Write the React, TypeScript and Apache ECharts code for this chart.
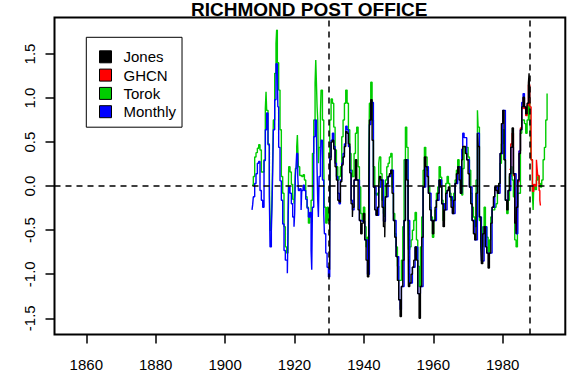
import React, { useEffect, useRef } from "react";
import * as echarts from "echarts";

const FONT = "'Liberation Sans', Arial, Helvetica, sans-serif";

const TITLE = "RICHMOND POST OFFICE";
const LEGEND_ORDER = ["Jones", "GHCN", "Torok", "Monthly"];
const X_TICKS = [1860, 1880, 1900, 1920, 1940, 1960, 1980];
const Y_TICKS = [-1.5, -1.0, -0.5, 0.0, 0.5, 1.0, 1.5];
const X_RANGE = [1850.84, 1998.04];
const Y_RANGE = [-1.684, 1.914];
const V_LINES = [1930, 1987.7];

// [year, anomaly]
const torok: [number, number][] = [
  [1907.76, 0.01], [1908.14, 0.11], [1908.53, 0.33], [1908.91, 0.38], [1909.3, 0.43], [1909.68, 0.47],
  [1910.06, 0.41], [1910.45, 0.16], [1910.83, 0.16], [1911.22, 0.3], [1911.6, 0.88], [1911.8, 1.07],
  [1911.98, 0.86], [1912.37, 0.48], [1912.75, 0.1], [1912.95, -0.5], [1913.33, -0.4], [1913.52, -0.1],
  [1913.71, 0.3], [1913.91, 0.75], [1914.29, 1.28], [1914.67, 1.62], [1914.85, 1.77], [1915.06, 1.4],
  [1915.44, 1.09], [1915.83, 0.64], [1916.21, 0.11], [1916.6, -0.08], [1916.98, -0.46], [1917.36, -0.69],
  [1917.75, -0.76], [1918.13, -0.31], [1918.33, 0.22], [1918.71, 0.16], [1919.09, 0.02], [1919.48, -0.15],
  [1919.86, -0.2], [1920.05, -0.08], [1920.25, 0.2], [1920.63, 0.44], [1920.83, 0.58], [1920.94, 0.44],
  [1921.13, 0.22], [1921.51, 0.12], [1922.09, 0.11], [1922.48, 0.13], [1922.86, 0.07], [1923.24, -0.12],
  [1923.63, -0.24], [1924.01, -0.42], [1924.4, -0.35], [1924.78, -0.16], [1925.17, 0.37], [1925.55, 0.75],
  [1925.93, 1.17], [1926.13, 1.43], [1926.32, 1.17], [1926.51, 0.9], [1926.7, 0.75], [1926.89, 0.26],
  [1927.09, 0.44], [1927.47, 0.83], [1927.66, 1.09], [1928.05, 0.75], [1928.43, 0.3], [1928.62, -0.24],
  [1929.01, -0.42], [1929.39, -0.24], [1929.78, -0.39], [1930.16, 0.75], [1930.54, 0.99], [1930.93, 0.94],
  [1931.31, 0.67], [1931.7, 0.41], [1932.08, 0.22], [1932.47, 0.07], [1932.85, 0.11], [1933.23, 0.22],
  [1933.62, 0.56], [1934.0, 0.75], [1934.39, 0.94], [1934.77, 1.09], [1935.16, 0.94], [1935.54, 0.64],
  [1935.93, 0.37], [1936.31, 0.18], [1936.69, 0.1], [1936.79, 0.11], [1937.17, 0.37], [1937.56, 0.6],
  [1937.94, 0.67], [1938.33, 0.22], [1938.71, -0.01], [1939.09, -0.31], [1939.48, -0.39], [1939.86, -0.24],
  [1940.25, -0.46], [1940.63, -0.69], [1941.02, -0.58], [1941.4, 0.18], [1941.59, 0.94], [1941.98, 1.18],
  [1942.36, 0.75], [1942.74, 0.22], [1943.13, -0.08], [1943.51, -0.1], [1943.9, -0.08], [1944.28, 0.26],
  [1944.47, 0.33], [1944.86, 0.14], [1945.24, -0.16], [1945.63, -0.31], [1946.01, -0.35], [1946.2, 0.07],
  [1946.59, 0.22], [1946.97, 0.26], [1947.35, 0.33], [1947.74, 0.37], [1948.12, -0.01], [1948.51, -0.31],
  [1948.89, -0.54], [1949.28, -0.69], [1949.66, -0.91], [1950.04, -1.07], [1950.43, -1.07], [1950.81, -0.84],
  [1951.2, -0.46], [1951.58, 0.3], [1951.97, 0.67], [1952.35, 0.44], [1952.73, -0.08], [1952.83, -0.72],
  [1953.21, -0.69], [1953.6, -0.61], [1953.98, -0.5], [1954.37, -0.39], [1954.75, -0.3], [1955.14, -0.61],
  [1955.52, -0.91], [1955.91, -1.14], [1956.29, -0.69], [1956.67, -0.35], [1957.06, 0.18], [1957.44, 0.44],
  [1957.83, 0.33], [1958.21, 0.18], [1958.59, -0.01], [1958.98, -0.24], [1959.36, -0.35], [1959.75, -0.58],
  [1960.13, -0.39], [1960.51, -0.27], [1960.9, -0.08], [1961.28, -0.01], [1961.67, 0.22], [1962.05, 0.1],
  [1962.43, -0.16], [1962.82, -0.39], [1963.2, -0.2], [1963.59, 0.03], [1963.97, 0.11], [1964.35, 0.03],
  [1964.74, -0.08], [1965.12, -0.16], [1965.51, -0.24], [1965.89, -0.08], [1966.28, 0.07], [1966.66, 0.18],
  [1967.04, 0.3], [1967.43, 0.22], [1967.81, -0.03], [1968.2, -0.1], [1968.49, 0.2], [1968.87, 0.44],
  [1969.26, 0.44], [1969.64, 0.44], [1970.03, 0.33], [1970.41, 0.18], [1970.79, -0.08], [1971.18, -0.24],
  [1971.56, -0.35], [1971.95, -0.46], [1972.33, 0.07], [1972.72, 0.86], [1972.91, 0.67], [1973.29, -0.39],
  [1973.68, -0.58], [1973.87, -0.69], [1974.25, -0.46], [1974.64, -0.24], [1975.02, -0.46], [1975.41, -0.58],
  [1975.79, -0.76], [1976.17, -0.61], [1976.56, -0.35], [1976.94, -0.27], [1977.33, -0.27], [1977.71, -0.24],
  [1978.09, -0.2], [1978.48, -0.08], [1978.86, 0.03], [1979.25, 0.26], [1979.63, 0.48], [1980.02, 0.64],
  [1980.4, 0.3], [1980.78, -0.16], [1981.17, -0.31], [1981.55, -0.16], [1981.94, 0.11], [1982.32, 0.22],
  [1982.71, 0.07], [1983.09, -0.12], [1983.47, -0.61], [1983.86, -0.69], [1984.24, -0.4], [1984.34, -0.08],
  [1985.11, 0.6], [1985.49, 0.75], [1986.26, 0.71], [1986.64, 0.6], [1987.03, 0.75], [1987.41, 0.95],
  [1987.8, 0.85], [1988.0, 0.58], [1988.18, 0.3], [1988.57, -0.08], [1988.76, -0.27], [1988.95, 0.0],
  [1989.33, -0.04], [1989.72, 0.07], [1990.1, 0.11], [1990.49, 0.03], [1990.87, -0.01], [1991.25, 0.07],
  [1991.64, 0.3], [1992.02, 0.44], [1992.41, 0.75], [1992.79, 1.05],
];

const ghcn: [number, number][] = [
  [1981.94, 0.19], [1982.32, 0.48], [1982.71, 0.6], [1983.09, 0.12], [1983.47, -0.4], [1983.86, -0.5],
  [1984.24, -0.12], [1984.34, 0.05], [1984.72, 0.4], [1985.11, 0.66], [1985.49, 0.88], [1985.88, 1.0],
  [1986.26, 0.88], [1986.64, 0.8], [1987.03, 0.92], [1987.41, 1.15], [1987.8, 0.9], [1988.18, 0.3],
  [1988.57, -0.06], [1988.95, 0.02], [1989.33, 0.0], [1989.72, 0.3], [1989.91, 0.2], [1990.1, 0.12],
  [1990.49, -0.05], [1990.7, -0.16], [1990.87, -0.22],
];

const monthly: [number, number][] = [
  [1907.76, -0.27], [1907.95, -0.21], [1908.14, -0.12], [1908.53, 0.03], [1908.91, 0.14], [1909.3, 0.26],
  [1909.68, 0.28], [1910.06, -0.05], [1910.45, -0.16], [1910.83, -0.24], [1911.22, 0.29], [1911.6, 0.64],
  [1911.98, 0.83], [1912.37, 0.47], [1912.75, -0.12], [1912.85, -0.39], [1912.95, -0.69], [1913.33, -0.5],
  [1913.52, -0.23], [1913.71, 0.14], [1913.91, 0.64], [1914.29, 0.98], [1914.67, 1.39], [1915.06, 1.34],
  [1915.2, 0.9], [1915.44, 0.44], [1915.83, 0.06], [1916.21, -0.16], [1916.6, -0.43], [1916.98, -0.73],
  [1917.36, -0.84], [1917.94, -0.99], [1918.13, -0.5], [1918.33, -0.01], [1918.71, -0.08], [1919.09, -0.2],
  [1919.48, -0.35], [1919.86, -0.46], [1920.05, -0.31], [1920.25, 0.11], [1920.44, 0.22], [1920.63, 0.37],
  [1920.94, 0.11], [1921.13, -0.05], [1921.51, -0.03], [1921.9, -0.27], [1922.09, -0.05], [1922.48, 0.01],
  [1922.86, -0.05], [1923.24, -0.15], [1923.63, -0.25], [1924.01, -0.35], [1924.4, -0.3], [1924.78, -0.73],
  [1924.97, -0.95], [1925.17, -0.24], [1925.55, 0.56], [1925.93, 0.75], [1926.32, 0.6], [1926.51, 0.18],
  [1926.7, -0.16], [1926.89, -0.35], [1927.09, 0.11], [1927.47, 0.3], [1927.66, 0.52], [1928.05, 0.07],
  [1928.43, -0.31], [1928.62, -0.54], [1929.01, -0.76], [1929.39, -0.92], [1929.78, -1.03], [1930.16, 0.33],
  [1930.54, 0.52], [1930.93, 0.6], [1931.31, 0.45], [1931.7, 0.26], [1932.08, 0.11], [1932.47, -0.08],
  [1932.85, -0.2], [1933.23, 0.07], [1933.62, 0.26], [1934.0, 0.37], [1934.39, 0.48], [1934.77, 0.68],
  [1935.16, 0.64], [1935.54, 0.45], [1935.93, 0.18], [1936.31, -0.16], [1936.69, -0.27], [1937.17, 0.07],
  [1937.94, 0.07], [1938.71, -0.39], [1939.48, -0.4], [1940.25, -0.61], [1941.02, -1.0], [1941.59, 0.7],
  [1941.98, 0.95], [1942.74, -0.01], [1943.51, -0.33], [1944.28, -0.01], [1944.86, 0.07], [1945.63, -0.4],
  [1946.2, -0.12], [1946.97, 0.11], [1947.74, 0.18], [1948.51, -0.39], [1949.28, -0.8], [1950.04, -1.29],
  [1950.43, -1.4], [1950.81, -1.14], [1951.58, -0.39], [1951.97, 0.3], [1952.73, -0.39], [1953.21, -1.1],
  [1953.98, -0.92], [1954.75, -0.69], [1955.52, -1.22], [1956.29, -1.14], [1957.06, -0.01], [1957.83, 0.22],
  [1958.59, -0.08], [1959.36, -0.39], [1960.13, -0.39], [1960.9, -0.16], [1961.67, 0.07], [1962.43, -0.2],
  [1963.2, -0.27], [1963.97, -0.05], [1964.74, -0.12], [1965.51, -0.31], [1966.28, 0.03], [1967.04, 0.22],
  [1967.81, -0.08], [1968.2, 0.42], [1968.49, 0.6], [1968.87, 0.55], [1969.64, 0.3], [1970.41, -0.01],
  [1971.18, -0.39], [1971.95, -0.61], [1972.72, 0.6], [1973.29, -0.35], [1973.87, -0.85], [1974.64, -0.46],
  [1975.41, -0.76], [1976.17, -0.76], [1976.94, -0.24], [1977.71, -0.01], [1978.48, -0.08], [1979.25, 0.37],
  [1980.02, 0.86], [1980.78, -0.16], [1981.55, -0.05], [1982.32, 0.44], [1983.09, 0.14], [1983.86, -0.54],
  [1984.34, 0.07], [1984.72, 0.4], [1985.11, 0.64], [1985.49, 0.95], [1985.88, 1.05], [1986.26, 0.9],
  [1986.64, 0.82],
];

const jones: [number, number][] = [
  [1930.1, -0.95], [1930.25, 0.3], [1930.54, 0.5], [1930.93, 0.52], [1931.31, 0.42], [1931.7, 0.22],
  [1932.08, 0.07], [1932.47, -0.16], [1932.85, -0.18], [1933.23, 0.05], [1933.62, 0.24], [1934.0, 0.33],
  [1934.39, 0.45], [1934.77, 0.62], [1935.16, 0.6], [1935.54, 0.48], [1935.93, 0.15], [1936.31, -0.2],
  [1936.69, -0.35], [1936.79, -0.24], [1937.17, 0.07], [1937.56, 0.3], [1937.94, 0.07], [1938.33, -0.27],
  [1938.71, -0.39], [1939.09, -0.54], [1939.48, -0.42], [1939.86, -0.31], [1940.25, -0.61], [1940.63, -0.84],
  [1941.02, -1.03], [1941.4, -0.08], [1941.59, 0.75], [1941.98, 0.98], [1942.36, 0.52], [1942.74, -0.01],
  [1943.13, -0.27], [1943.51, -0.33], [1943.9, -0.24], [1944.28, -0.01], [1944.47, 0.11], [1944.86, 0.07],
  [1945.24, -0.24], [1945.63, -0.46], [1946.01, -0.58], [1946.2, -0.12], [1946.59, 0.03], [1946.97, 0.11],
  [1947.35, 0.14], [1947.74, 0.18], [1948.12, -0.08], [1948.51, -0.39], [1948.89, -0.58], [1949.28, -0.8],
  [1949.66, -1.07], [1950.04, -1.29], [1950.43, -1.48], [1950.81, -1.14], [1951.2, -0.84], [1951.58, -0.39],
  [1951.97, 0.3], [1952.35, 0.07], [1952.73, -0.39], [1952.83, -1.14], [1953.21, -1.1], [1953.6, -1.0],
  [1953.98, -0.92], [1954.37, -0.84], [1954.75, -0.69], [1955.14, -0.84], [1955.52, -1.22], [1955.91, -1.5],
  [1956.29, -1.14], [1956.67, -0.58], [1957.06, -0.01], [1957.44, 0.33], [1957.83, 0.22], [1958.21, 0.11],
  [1958.59, -0.08], [1958.98, -0.27], [1959.36, -0.39], [1959.75, -0.54], [1960.13, -0.39], [1960.51, -0.24],
  [1960.9, -0.16], [1961.28, -0.08], [1961.67, 0.07], [1962.05, -0.01], [1962.43, -0.2], [1962.82, -0.46],
  [1963.2, -0.27], [1963.59, -0.08], [1963.97, -0.05], [1964.35, -0.01], [1964.74, -0.12], [1965.12, -0.24],
  [1965.51, -0.31], [1965.89, -0.16], [1966.28, 0.03], [1966.66, 0.14], [1967.04, 0.22], [1967.43, 0.07],
  [1967.81, -0.08], [1968.2, 0.3], [1968.49, 0.45], [1968.87, 0.45], [1969.26, 0.37], [1969.64, 0.3],
  [1970.03, 0.14], [1970.41, -0.01], [1970.79, -0.2], [1971.18, -0.39], [1971.56, -0.54], [1971.95, -0.61],
  [1972.33, -0.08], [1972.72, 0.6], [1972.91, 0.45], [1973.29, -0.35], [1973.68, -0.69], [1973.87, -0.88],
  [1974.25, -0.54], [1974.64, -0.46], [1975.02, -0.69], [1975.41, -0.76], [1975.79, -0.93], [1976.17, -0.76],
  [1976.56, -0.42], [1976.94, -0.24], [1977.33, -0.12], [1977.71, -0.01], [1978.09, -0.05], [1978.48, -0.08],
  [1978.86, 0.03], [1979.25, 0.37], [1979.63, 0.71], [1980.02, 0.86], [1980.4, 0.3], [1980.78, -0.16],
  [1981.17, -0.27], [1981.55, -0.05], [1981.94, 0.14], [1982.32, 0.44], [1982.71, 0.66], [1983.09, 0.14],
  [1983.47, -0.42], [1983.86, -0.54], [1983.95, -0.24], [1984.34, 0.07], [1984.72, 0.37], [1985.11, 0.64],
  [1985.49, 0.9], [1985.88, 1.01], [1986.26, 0.9], [1986.64, 0.82], [1987.03, 0.94], [1987.41, 1.17],
  [1987.6, 1.28], [1987.8, 1.0],
];

const COLORS: Record<string, string> = {
  Jones: "#000000",
  GHCN: "#FF0000",
  Torok: "#00CD00",
  Monthly: "#0000FF",
};

function lineSeries(name: string, data: [number, number][], extra: any = {}) {
  return {
    name,
    type: "line",
    data,
    step: "end",
    symbol: "none",
    silent: true,
    color: COLORS[name],
    lineStyle: { color: COLORS[name], width: 1.4 },
    emphasis: { disabled: true },
    ...extra,
  };
}

export default function App() {
  const ref = useRef<HTMLDivElement>(null);
  useEffect(() => {
    if (!ref.current) return;
    const chart = echarts.init(ref.current, null, { renderer: "svg" });
    const option: any = {
      animation: false,
      backgroundColor: "#ffffff",
      title: {
        text: TITLE,
        left: 191,
        top: 0,
        padding: 0,
        textStyle: { fontFamily: FONT, fontSize: 19, fontWeight: "bold", color: "#000" },
      },
      grid: {
        left: 54.5,
        top: 17.5,
        right: 17.7,
        bottom: 53.5,
        show: true,
        borderColor: "#000",
        borderWidth: 2,
        backgroundColor: "transparent",
      },
      legend: {
        data: LEGEND_ORDER,
        orient: "vertical",
        left: 86.3,
        top: 37.3,
        padding: [12, 6, 8, 12.7],
        itemWidth: 12,
        itemHeight: 12,
        itemGap: 3.3,
        icon: "rect",
        selectedMode: false,
        backgroundColor: "#ffffff",
        borderColor: "#000",
        borderWidth: 1,
        itemStyle: { borderColor: "#000", borderWidth: 1 },
        textStyle: { fontFamily: FONT, fontSize: 15, color: "#000", lineHeight: 15, padding: [0, 0, 0, 7] },
      },
      xAxis: {
        type: "value",
        min: X_RANGE[0],
        max: X_RANGE[1],
        axisLine: { show: false, onZero: false },
        splitLine: { show: false },
        axisTick: { show: true, length: 9, lineStyle: { color: "#000", width: 1.5 }, customValues: X_TICKS },
        axisLabel: {
          customValues: X_TICKS,
          fontFamily: FONT,
          fontSize: 15,
          color: "#000",
          margin: 22,
          formatter: (v: number) => String(Math.round(v)),
        },
      },
      yAxis: {
        type: "value",
        min: Y_RANGE[0],
        max: Y_RANGE[1],
        axisLine: { show: false, onZero: false },
        splitLine: { show: false },
        axisTick: { show: true, length: 9, lineStyle: { color: "#000", width: 1.5 }, customValues: Y_TICKS },
        axisLabel: {
          customValues: Y_TICKS,
          rotate: 90,
          fontFamily: FONT,
          fontSize: 15,
          color: "#000",
          margin: 18,
          formatter: (v: number) => v.toFixed(1),
        },
      },
      series: [
        lineSeries("Torok", torok),
        lineSeries("GHCN", ghcn),
        lineSeries("Monthly", monthly),
        lineSeries("Jones", jones, {
          markLine: {
            silent: true,
            symbol: "none",
            label: { show: false },
            lineStyle: { color: "#000", width: 1.5, type: [6, 5] },
            emphasis: { disabled: true },
            data: [{ yAxis: 0 }, ...V_LINES.map((x) => ({ xAxis: x }))],
          },
        }),
      ],
    };
    chart.setOption(option);
    return () => chart.dispose();
  }, []);
  return (
    <div
      ref={ref}
      style={{ position: "absolute", left: 0, top: 0, width: 583, height: 388, background: "#fff" }}
    />
  );
}
